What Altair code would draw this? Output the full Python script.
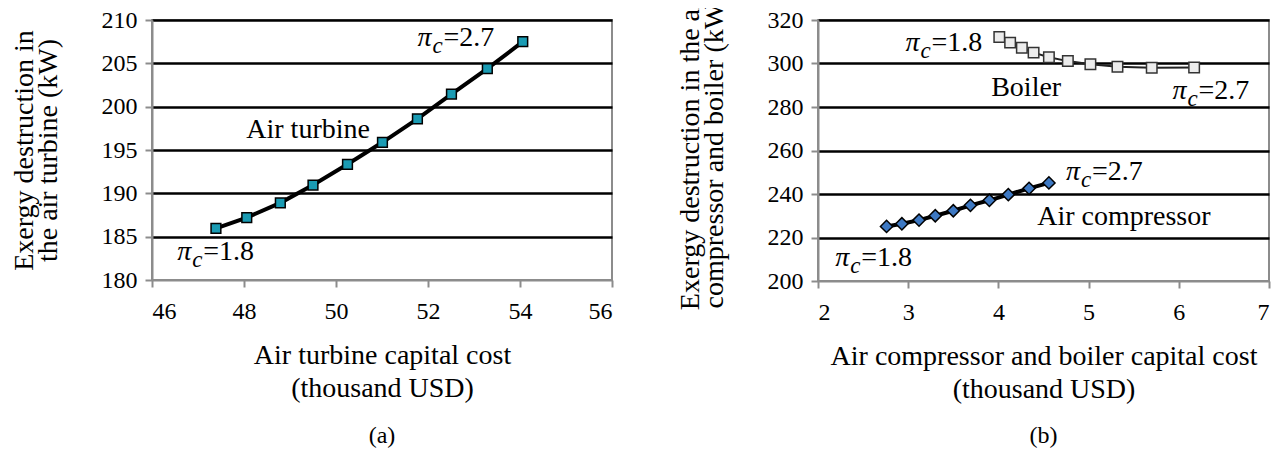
import altair as alt
import pandas as pd

FONT = "Liberation Serif"

# ---- data ----
turb_x = [47.39, 48.06, 48.79, 49.50, 50.25, 51.01, 51.77, 52.51, 53.29, 54.06]
turb_y = [185.96, 187.2, 188.9, 190.96, 193.35, 195.89, 198.6, 201.46, 204.38, 207.5]

boil_x = [4.01, 4.13, 4.26, 4.39, 4.56, 4.77, 5.02, 5.32, 5.70, 6.17]
boil_y = [312.2, 309.6, 307.2, 305.0, 302.9, 301.1, 299.7, 298.5, 298.0, 298.2]

comp_x = [2.76, 2.93, 3.12, 3.30, 3.50, 3.69, 3.90, 4.11, 4.34, 4.56]
comp_y = [225.1, 226.3, 228.0, 230.0, 232.3, 234.8, 237.1, 239.7, 242.6, 245.1]

left_x_ticks = [46, 48, 50, 52, 54, 56]
left_y_ticks = [180, 185, 190, 195, 200, 205, 210]
right_x_ticks = [2, 3, 4, 5, 6, 7]
right_y_ticks = [200, 220, 240, 260, 280, 300, 320]

# annotations
left_pi_x = [51.77, 46.55]
left_pi_y = [207.9, 183.2]
left_pi_val = ["=2.7", "=1.8"]
left_name = ["Air turbine"]
left_name_x = [48.05]
left_name_y = [197.3]

right_pi_x = [2.97, 5.93, 4.75, 2.19]
right_pi_y = [309.3, 287.4, 249.9, 210.4]
right_pi_val = ["=1.8", "=2.7", "=2.7", "=1.8"]
right_name = ["Boiler", "Air compressor"]
right_name_x = [3.92, 4.43]
right_name_y = [288.7, 229.4]

turb = pd.DataFrame({"x": turb_x, "y": turb_y})
boil = pd.DataFrame({"x": boil_x, "y": boil_y})
comp = pd.DataFrame({"x": comp_x, "y": comp_y})
lpi = pd.DataFrame({"x": left_pi_x, "y": left_pi_y, "v": left_pi_val})
lnm = pd.DataFrame({"x": left_name_x, "y": left_name_y, "t": left_name})
rpi = pd.DataFrame({"x": right_pi_x, "y": right_pi_y, "v": right_pi_val})
rnm = pd.DataFrame({"x": right_name_x, "y": right_name_y, "t": right_name})

GRAY = "#8c8c8c"


def xaxis(ticks, title):
    return alt.Axis(values=ticks, grid=False, format="d", domainColor=GRAY, domainWidth=2,
                    tickColor=GRAY, tickWidth=2, tickSize=7,
                    labelFont=FONT, labelFontSize=24, labelColor="black", labelPadding=12,
                    title=title, titleFont=FONT, titleFontSize=28, titleFontWeight="normal",
                    titleColor="black", titlePadding=18, titleLineHeight=33)


def yaxis(ticks, title, low, pad):
    return alt.Axis(values=ticks, grid=True, format="d",
                    gridColor=alt.condition(f"datum.value == {low}", alt.value("transparent"), alt.value("black")),
                    gridWidth=2.5, domainColor=GRAY, domainWidth=2,
                    tickColor=GRAY, tickWidth=2, tickSize=7,
                    labelFont=FONT, labelFontSize=24, labelColor="black", labelPadding=8,
                    title=title, titleFont=FONT, titleFontSize=28, titleFontWeight="normal",
                    titleColor="black", titlePadding=pad, titleLineHeight=24)


def pi_layers(df, xs, ys):
    base = alt.Chart(df)
    enc = dict(x=alt.X("x:Q", scale=xs), y=alt.Y("y:Q", scale=ys))
    p = base.mark_text(align="left", baseline="middle", font=FONT, fontSize=28,
                       fontStyle="italic", color="black").encode(text=alt.value("π"), **enc)
    c = base.mark_text(align="left", baseline="middle", font=FONT, fontSize=23,
                       fontStyle="italic", color="black", dx=15, dy=8).encode(text=alt.value("c"), **enc)
    v = base.mark_text(align="left", baseline="middle", font=FONT, fontSize=28,
                       color="black", dx=26).encode(text="v:N", **enc)
    return [p, c, v]


# ---- left panel ----
lxs = alt.Scale(domain=[46, 56], nice=False, zero=False)
lys = alt.Scale(domain=[180, 210], nice=False, zero=False)

l_line = alt.Chart(turb).mark_line(color="black", strokeWidth=4).encode(
    x=alt.X("x:Q", scale=lxs, axis=xaxis(left_x_ticks, ["Air turbine capital cost", "(thousand USD)"])),
    y=alt.Y("y:Q", scale=lys, axis=yaxis(left_y_ticks, ["Exergy destruction in", "the air turbine (kW)"], 180, 39)),
)
l_pts = alt.Chart(turb).mark_point(shape="square", filled=True, fill="#1a9bb3", stroke="black",
                                   strokeWidth=1.5, size=95, opacity=1).encode(
    x=alt.X("x:Q", scale=lxs), y=alt.Y("y:Q", scale=lys))
l_name = alt.Chart(lnm).mark_text(align="left", baseline="middle", font=FONT, fontSize=28,
                                  color="black").encode(
    x=alt.X("x:Q", scale=lxs), y=alt.Y("y:Q", scale=lys), text="t:N")

left = alt.layer(l_line, l_pts, l_name, *pi_layers(lpi, lxs, lys)).properties(
    width=460, height=260,
    title=alt.TitleParams("(a)", orient="bottom", frame="group", anchor="middle", font=FONT,
                          fontSize=24, fontWeight="normal", color="black", offset=22))

# ---- right panel ----
rxs = alt.Scale(domain=[2, 7], nice=False, zero=False)
rys = alt.Scale(domain=[200, 320], nice=False, zero=False)

r_bline = alt.Chart(boil).mark_line(color="#222222", strokeWidth=2).encode(
    x=alt.X("x:Q", scale=rxs, axis=xaxis(right_x_ticks, ["Air compressor and boiler capital cost", "(thousand USD)"])),
    y=alt.Y("y:Q", scale=rys, axis=yaxis(right_y_ticks, ["Exergy destruction in the air", "compressor and boiler (kW)"], 200, 39)),
)
r_bpts = alt.Chart(boil).mark_point(shape="square", filled=True, fill="#ececec", stroke="#333333",
                                    strokeWidth=1.5, size=110, opacity=1).encode(
    x=alt.X("x:Q", scale=rxs), y=alt.Y("y:Q", scale=rys))
r_cline = alt.Chart(comp).mark_line(color="black", strokeWidth=4).encode(
    x=alt.X("x:Q", scale=rxs), y=alt.Y("y:Q", scale=rys))
r_cpts = alt.Chart(comp).mark_point(shape="diamond", filled=True, fill="#3d78c2", stroke="black",
                                    strokeWidth=1.5, size=150, opacity=1).encode(
    x=alt.X("x:Q", scale=rxs), y=alt.Y("y:Q", scale=rys))
r_name = alt.Chart(rnm).mark_text(align="left", baseline="middle", font=FONT, fontSize=28,
                                  color="black").encode(
    x=alt.X("x:Q", scale=rxs), y=alt.Y("y:Q", scale=rys), text="t:N")

right = alt.layer(r_bline, r_bpts, r_cline, r_cpts, r_name, *pi_layers(rpi, rxs, rys)).properties(
    width=451, height=261,
    title=alt.TitleParams("(b)", orient="bottom", frame="group", anchor="middle", font=FONT,
                          fontSize=24, fontWeight="normal", color="black", offset=21))

chart = alt.hconcat(left, right, spacing=206, bounds="flush").configure(
    autosize=alt.AutoSizeParams(type="none"),
    padding={"left": 144, "top": 12, "right": 1119, "bottom": 429},
    background="white",
).configure_view(stroke=GRAY, strokeWidth=2)

chart.save("out.html", embed_options={"renderer": "svg", "actions": False})
